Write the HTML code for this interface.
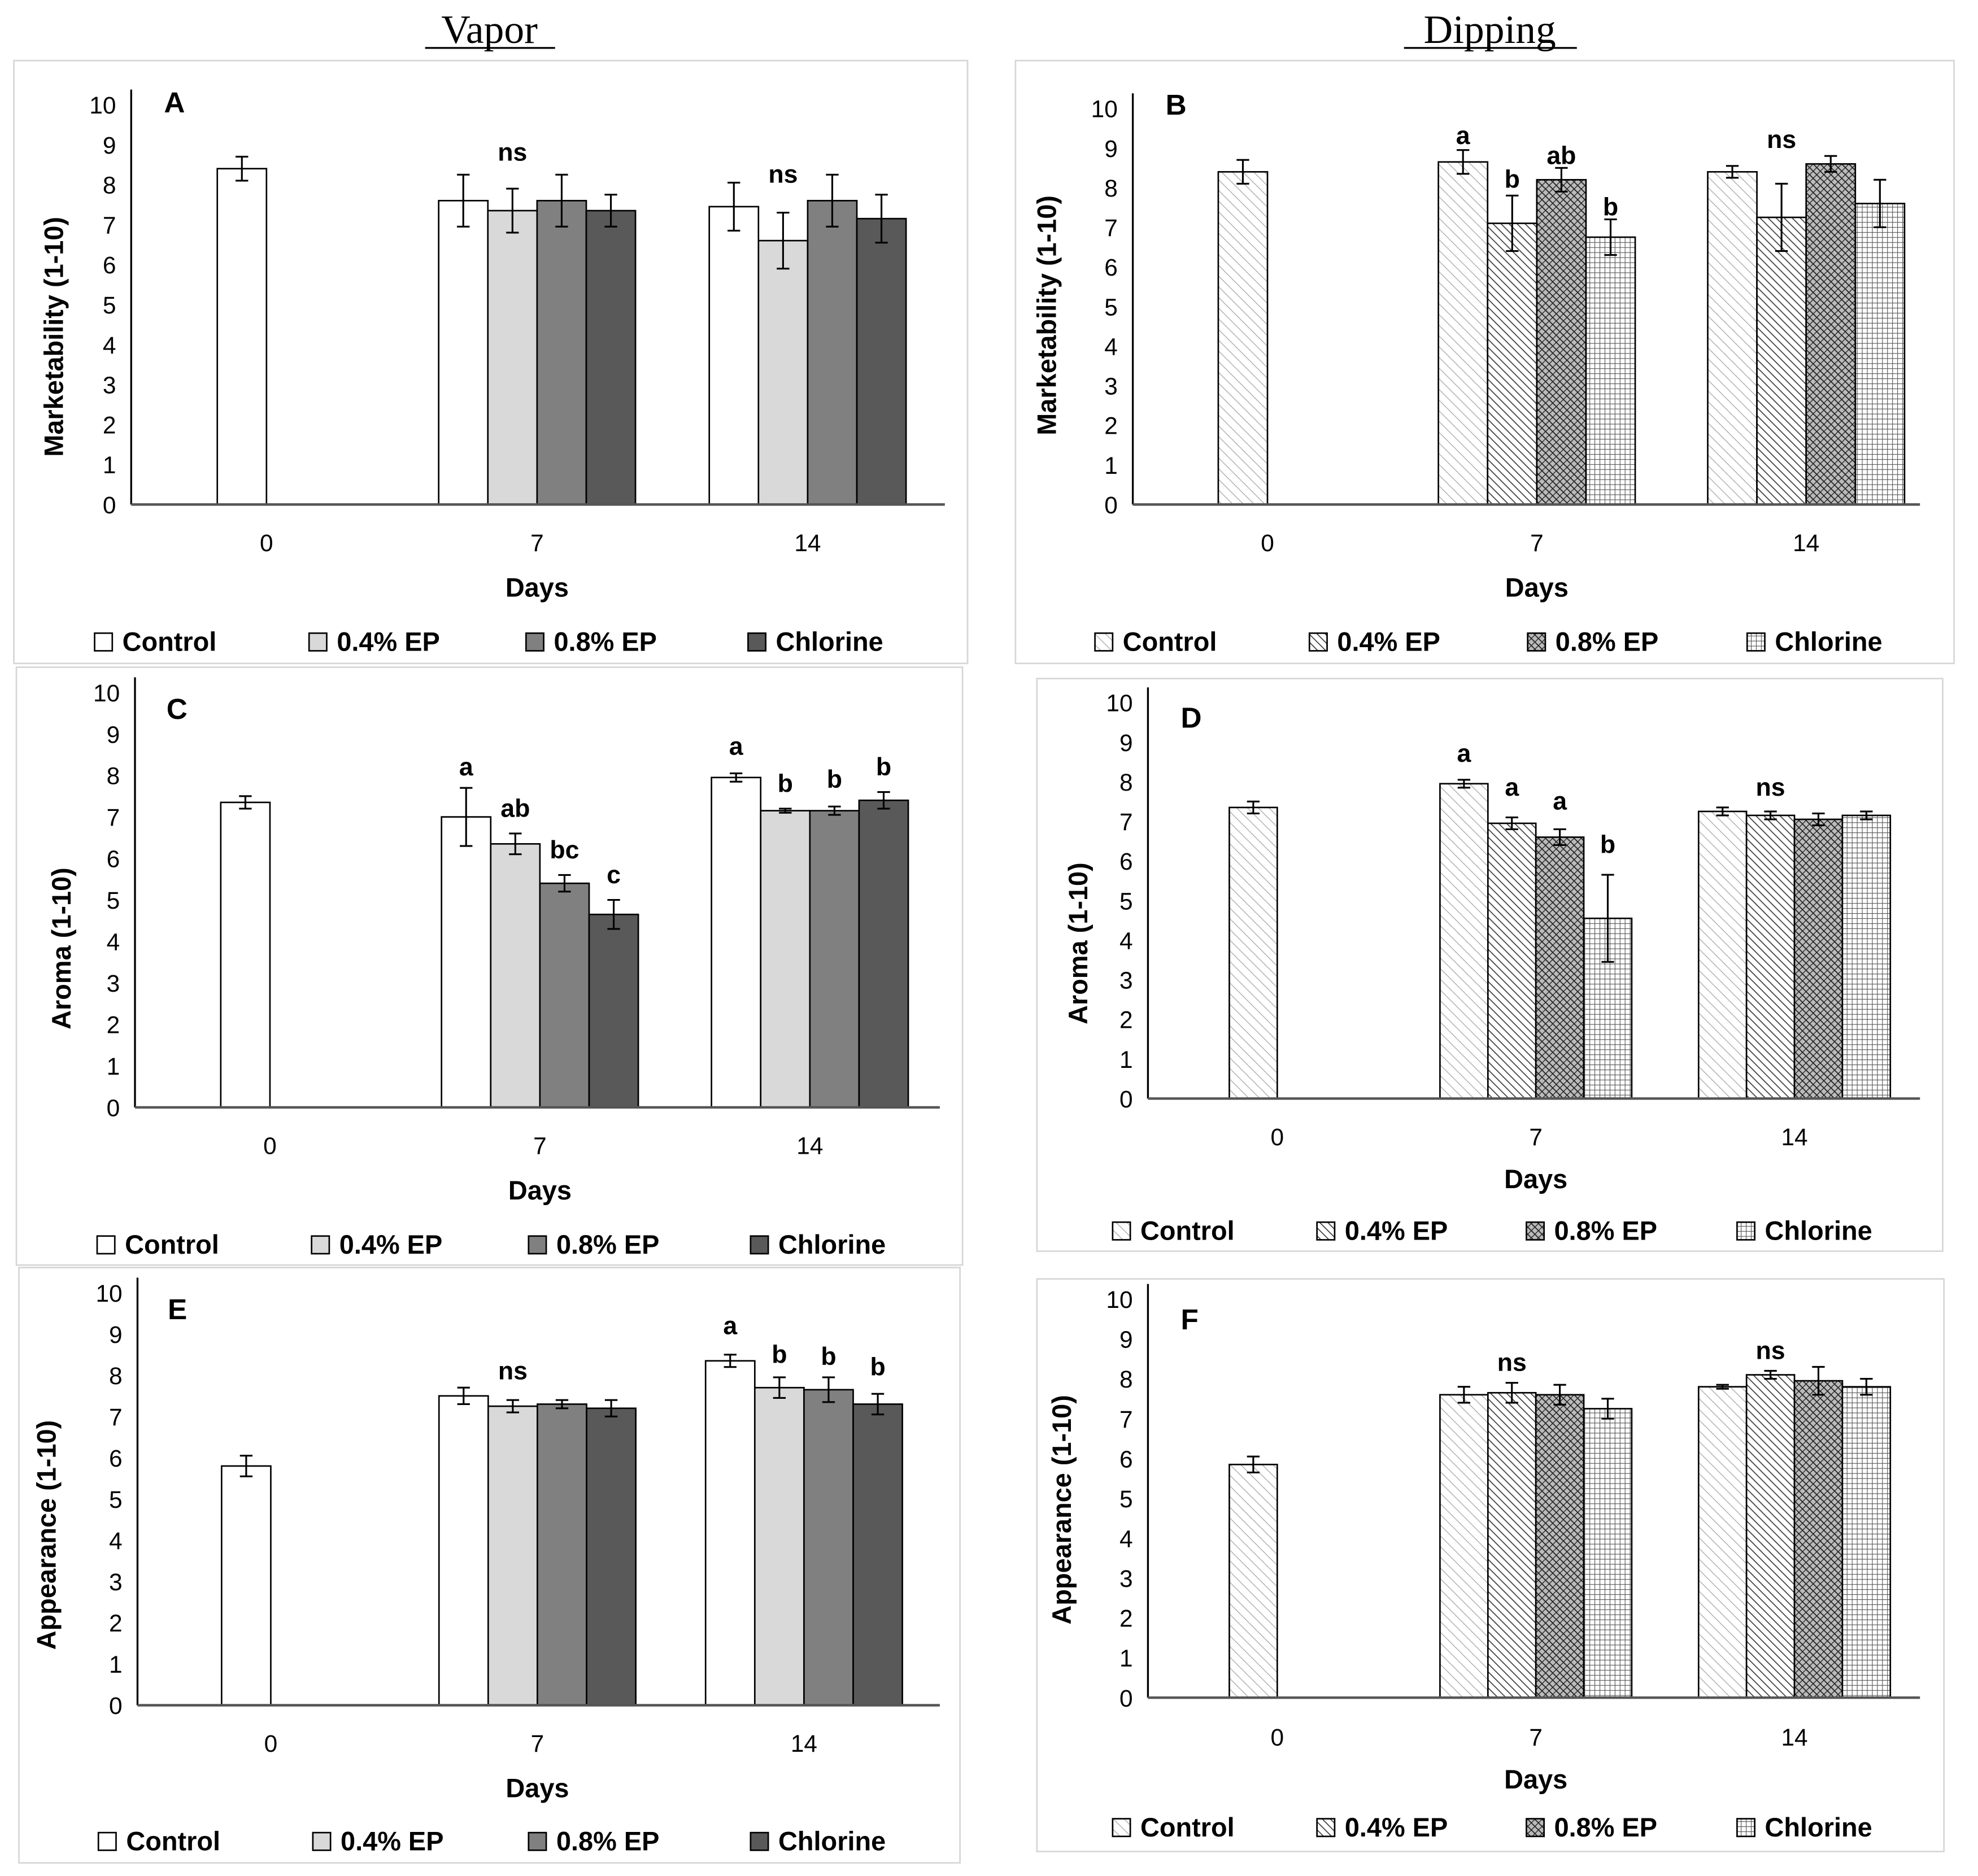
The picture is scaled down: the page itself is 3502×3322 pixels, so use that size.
<!DOCTYPE html>
<html><head><meta charset="utf-8"><style>
html,body{margin:0;padding:0;background:#fff}
svg{display:block}
text{font-family:"Liberation Sans",sans-serif;fill:#000}
</style></head><body>
<svg id="fig" width="3502" height="3322" viewBox="0 0 1568 1487.4" xmlns="http://www.w3.org/2000/svg">
<defs>
<pattern id="pCtrl" patternUnits="userSpaceOnUse" width="6" height="6" patternTransform="rotate(-45)"><rect width="6" height="6" fill="#fff"/><line x1="0" y1="0" x2="0" y2="6" stroke="#aaa" stroke-width="1.2"/></pattern>
<pattern id="p04" patternUnits="userSpaceOnUse" width="4.5" height="4.5" patternTransform="rotate(-45)"><rect width="4.5" height="4.5" fill="#fff"/><line x1="0" y1="0" x2="0" y2="4.5" stroke="#444" stroke-width="1.6"/></pattern>
<pattern id="p08" patternUnits="userSpaceOnUse" width="4" height="4" patternTransform="rotate(-45)"><rect width="4" height="4" fill="#bbb"/><line x1="0" y1="0" x2="0" y2="4" stroke="#222" stroke-width="1.6"/><line x1="0" y1="0" x2="4" y2="0" stroke="#222" stroke-width="1.2"/></pattern>
<pattern id="pCl" patternUnits="userSpaceOnUse" width="4" height="4"><rect width="4" height="4" fill="#fff"/><line x1="0" y1="0" x2="4" y2="0" stroke="#555" stroke-width="1"/><line x1="0" y1="0" x2="0" y2="4" stroke="#555" stroke-width="1"/></pattern>
</defs>
<text x="388" y="34" font-size="32" text-anchor="middle" style="font-family:'Liberation Serif',serif">Vapor</text>
<line x1="337" y1="38" x2="440" y2="38" stroke="#000" stroke-width="1.5"/>
<text x="1181" y="34" font-size="32" text-anchor="middle" style="font-family:'Liberation Serif',serif">Dipping</text>
<line x1="1113" y1="38" x2="1250" y2="38" stroke="#000" stroke-width="1.5"/>
</svg>
<script>
const days = ["0","7","14"];
const seriesNames = ["Control","0.4% EP","0.8% EP","Chlorine"];
const yTicks = [0,1,2,3,4,5,6,7,8,9,10];

const aValues = [[8.4],[7.6,7.35,7.6,7.35],[7.45,6.6,7.6,7.15]];
const aErrors = [[0.3],[0.65,0.55,0.65,0.4],[0.6,0.7,0.65,0.6]];
const aLetters = [[],["","ns","",""],["","ns","",""]];
const aLetterVals = [[],[8.6,8.6,0,0],[0,8.05,0,0]];

const bValues = [[8.4],[8.65,7.1,8.2,6.75],[8.4,7.25,8.6,7.6]];
const bErrors = [[0.3],[0.3,0.7,0.3,0.45],[0.15,0.85,0.2,0.6]];
const bLetters = [[],["a","b","ab","b"],["","ns","",""]];
const bLetterVals = [[],[9.1,8.0,8.6,7.3],[0,9.0,0,0]];

const cValues = [[7.35],[7.0,6.35,5.4,4.65],[7.95,7.15,7.15,7.4]];
const cErrors = [[0.15],[0.7,0.25,0.2,0.35],[0.1,0.05,0.1,0.2]];
const cLetters = [[],["a","ab","bc","c"],["a","b","b","b"]];
const cLetterVals = [[],[8.0,7.0,6.0,5.4],[8.5,7.6,7.7,8.0]];

const dValues = [[7.35],[7.95,6.95,6.6,4.55],[7.25,7.15,7.05,7.15]];
const dErrors = [[0.15],[0.1,0.15,0.2,1.1],[0.1,0.1,0.15,0.1]];
const dLetters = [[],["a","a","a","b"],["","ns","",""]];
const dLetterVals = [[],[8.5,7.65,7.3,6.2],[0,7.65,0,0]];

const eValues = [[5.8],[7.5,7.25,7.3,7.2],[8.35,7.7,7.65,7.3]];
const eErrors = [[0.25],[0.2,0.15,0.1,0.2],[0.15,0.25,0.3,0.25]];
const eLetters = [[],["","ns","",""],["a","b","b","b"]];
const eLetterVals = [[],[0,7.9,0,0],[9.0,8.3,8.25,8.0]];

const fValues = [[5.85],[7.6,7.65,7.6,7.25],[7.8,8.1,7.95,7.8]];
const fErrors = [[0.2],[0.2,0.25,0.25,0.25],[0.05,0.1,0.35,0.2]];
const fLetters = [[],["","ns","",""],["","ns","",""]];
const fLetterVals = [[],[0,8.2,0,0],[0,8.5,0,0]];

const NS="http://www.w3.org/2000/svg";
const svg=document.getElementById('fig');
function mk(tag,attrs,parent){const e=document.createElementNS(NS,tag);for(const k in attrs)e.setAttribute(k,attrs[k]);(parent||svg).appendChild(e);return e;}
function txt(s,attrs,parent){const e=mk('text',attrs,parent);e.textContent=s;return e;}

const vaporFills=["#ffffff","#d9d9d9","#808080","#595959"];
const dipFills=["url(#pCtrl)","url(#p04)","url(#p08)","url(#pCl)"];

function panel(p){
  const g=mk('g',{});
  
  
  const fr=mk('rect',{x:p.fx,y:p.fy,width:p.fw,height:p.fh,fill:'none',stroke:'#d6d6d6','stroke-width':1.2},g);
  
  
  const yS=v=>p.y0-(p.y0-p.y10)*v/10;
  const step=(p.x1-p.x0)/3;
  const cx=i=>p.x0+(i+0.5)*step;
  const bw=p.bw;
  yTicks.forEach(t=>{
    const e=txt(String(t),{x:p.x0-12,y:yS(t)+7,'font-size':19,'text-anchor':'end'},g);
    
    
  });
  const ya=mk('line',{x1:p.x0,y1:yS(10)-12,x2:p.x0,y2:p.y0,stroke:'#000','stroke-width':1.5},g);
  
  
  const fills=p.dip?dipFills:vaporFills;
  p.values.forEach((arr,i)=>{
    arr.forEach((v,j)=>{
      const left = arr.length===1 ? cx(i)-bw : cx(i)-2*bw+j*bw;
      const b=mk('rect',{x:left,y:yS(v),width:bw,height:p.y0-yS(v),fill:fills[j],stroke:'#000','stroke-width':1.2},g);
      
      
      const er=p.errors[i][j], mx=left+bw/2;
      const el=mk('path',{d:`M${mx},${yS(v+er)}V${yS(v-er)}M${mx-5},${yS(v+er)}H${mx+5}M${mx-5},${yS(v-er)}H${mx+5}`,stroke:'#000','stroke-width':1.4,fill:'none'},g);
      
      
      const lt=(p.letters[i]||[])[j];
      if(lt){
        const t=txt(lt,{x:mx,y:yS(p.letterVals[i][j]),'font-size':20,'font-weight':'bold','text-anchor':'middle'},g);
        
        
      }
    });
    const cl=txt(days[i],{x:cx(i),y:p.tickY,'font-size':19,'text-anchor':'middle'},g);
    
    
  });
  const xa=mk('line',{x1:p.x0,y1:p.y0,x2:p.xEnd,y2:p.y0,stroke:'#555','stroke-width':2},g);
  
  
  const lt=txt(p.id,{x:p.lx,y:p.ly,'font-size':23,'font-weight':'bold'},g);
  
  
  const xt=txt('Days',{x:(p.x0+p.x1)/2,y:p.daysY,'font-size':21,'font-weight':'bold','text-anchor':'middle'},g);
  
  
  const yt=txt(p.ytitle,{x:0,y:0,'font-size':21,'font-weight':'bold','text-anchor':'middle',transform:`translate(${p.ytx},${p.yty}) rotate(-90)`},g);
  
  
  seriesNames.forEach((s,j)=>{
    const lx=p.legX[j];
    const sq=mk('rect',{x:lx,y:p.legY-14,width:14,height:14,fill:fills[j],stroke:'#000','stroke-width':1.2},g);
    
    
    const t=txt(s,{x:lx+22,y:p.legY,'font-size':21,'font-weight':'bold'},g);
    
    
  });
}

panel({id:'A',dip:false,fx:11,fy:48,fw:756,fh:478,x0:104,x1:747.5,xEnd:749,y0:400,y10:83,bw:39,values:aValues,errors:aErrors,letters:aLetters,letterVals:aLetterVals,tickY:437,daysY:473,legY:516,legX:[75,245,417,593],lx:130,ly:89,ytitle:'Marketability (1-10)',ytx:50,yty:267});
panel({id:'B',dip:true,fx:805,fy:48,fw:744,fh:478,x0:898,x1:1538.5,xEnd:1522,y0:400,y10:86,bw:39,values:bValues,errors:bErrors,letters:bLetters,letterVals:bLetterVals,tickY:437,daysY:473,legY:516,legX:[868,1038,1211,1385],lx:924,ly:91,ytitle:'Marketability (1-10)',ytx:837,yty:250});
panel({id:'C',dip:false,fx:13,fy:529,fw:750,fh:474,x0:107,x1:749,xEnd:745,y0:878,y10:549,bw:39,values:cValues,errors:cErrors,letters:cLetters,letterVals:cLetterVals,tickY:915,daysY:951,legY:994,legX:[77,247,419,595],lx:132,ly:570,ytitle:'Aroma (1-10)',ytx:56,yty:752});
panel({id:'D',dip:true,fx:822,fy:538,fw:718,fh:454,x0:910,x1:1525,xEnd:1522,y0:871,y10:557,bw:38,values:dValues,errors:dErrors,letters:dLetters,letterVals:dLetterVals,tickY:908,daysY:942,legY:983,legX:[882,1044,1210,1377],lx:936,ly:577,ytitle:'Aroma (1-10)',ytx:862,yty:748});
panel({id:'E',dip:false,fx:15,fy:1005,fw:746,fh:472,x0:109,x1:743,xEnd:745,y0:1352,y10:1025,bw:39,values:eValues,errors:eErrors,letters:eLetters,letterVals:eLetterVals,tickY:1389,daysY:1425,legY:1467,legX:[78,248,419,595],lx:133,ly:1046,ytitle:'Appearance (1-10)',ytx:44,yty:1217});
panel({id:'F',dip:true,fx:822,fy:1014,fw:719,fh:454,x0:910,x1:1525,xEnd:1522,y0:1346,y10:1030,bw:38,values:fValues,errors:fErrors,letters:fLetters,letterVals:fLetterVals,tickY:1384,daysY:1418,legY:1456,legX:[882,1044,1210,1377],lx:936,ly:1054,ytitle:'Appearance (1-10)',ytx:849,yty:1197});
</script>
</body></html>
